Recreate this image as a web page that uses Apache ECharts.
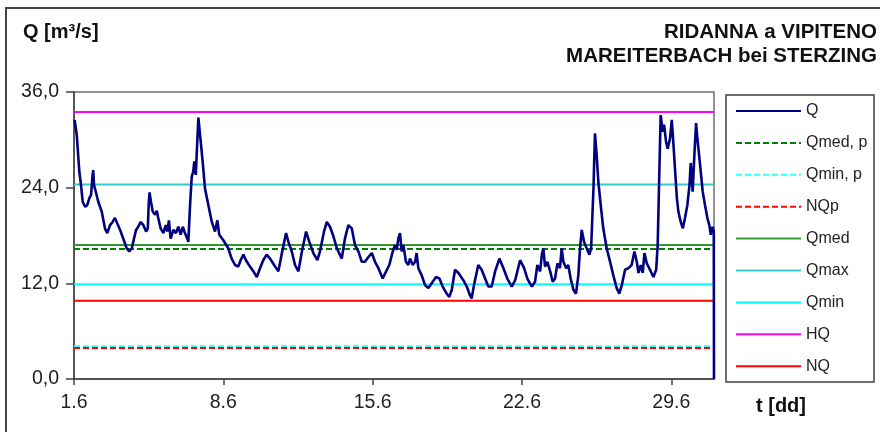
<!DOCTYPE html>
<html>
<head>
<meta charset="utf-8">
<script src="https://cdn.jsdelivr.net/npm/echarts@6/dist/echarts.min.js"></script>
<style>html,body{margin:0;padding:0;background:#fff}#c{width:880px;height:432px}</style>
</head>
<body>
<div id="c"></div>
<script>
// time in days since 1.6 00:00
const tDays = [0.03,0.13,0.25,0.33,0.41,0.52,0.62,0.72,0.80,0.86,0.90,0.94,1.02,1.14,1.30,1.45,1.56,1.69,1.81,1.92,2.03,2.16,2.31,2.47,2.59,2.71,2.81,2.91,3.01,3.13,3.25,3.38,3.46,3.50,3.54,3.61,3.69,3.80,3.88,3.95,4.06,4.19,4.30,4.37,4.45,4.53,4.66,4.78,4.89,5.00,5.10,5.20,5.31,5.36,5.44,5.52,5.59,5.64,5.71,5.75,5.83,5.91,6.03,6.14,6.30,6.46,6.61,6.72,6.81,7.00,7.23,7.39,7.55,7.70,7.81,7.94,8.06,8.25,8.41,8.57,8.72,8.87,9.03,9.19,9.38,9.58,9.73,9.94,10.05,10.21,10.36,10.52,10.67,10.88,11.03,11.22,11.41,11.53,11.72,11.85,12.00,12.16,12.32,12.55,12.70,12.86,13.02,13.17,13.33,13.49,13.64,13.80,13.96,14.11,14.27,14.47,14.63,14.78,14.94,15.05,15.13,15.20,15.28,15.36,15.44,15.56,15.67,15.75,15.88,15.99,16.06,16.14,16.30,16.45,16.61,16.77,16.97,17.13,17.28,17.47,17.59,17.71,17.86,18.02,18.25,18.41,18.56,18.64,18.75,18.95,19.11,19.27,19.42,19.58,19.74,19.94,20.13,20.31,20.52,20.68,20.91,21.10,21.25,21.46,21.61,21.72,21.85,21.93,22.00,22.08,22.19,22.32,22.44,22.55,22.66,22.78,22.86,22.94,23.07,23.17,23.28,23.41,23.53,23.64,23.72,23.80,23.91,24.03,24.16,24.24,24.35,24.42,24.50,24.58,24.69,24.81,24.97,25.13,25.28,25.44,25.56,25.68,25.83,25.99,26.14,26.27,26.38,26.46,26.57,26.66,26.74,26.85,27.00,27.16,27.29,27.36,27.42,27.50,27.60,27.66,27.75,27.83,27.94,28.02,28.10,28.18,28.26,28.33,28.44,28.54,28.64,28.75,28.85,28.91,29.00,29.08,29.16,29.22,29.35,29.47,29.58,29.69,29.78,29.85,29.93,29.99,30.00];
const qValues = [32.5,30.6,26.0,24.3,22.2,21.6,21.8,22.7,23.1,25.2,26.2,24.3,23.5,22.2,21.0,18.9,18.3,19.3,19.7,20.2,19.5,18.7,17.6,16.4,16.0,16.4,17.6,18.7,19.1,19.7,19.3,18.5,18.9,21.8,23.4,22.2,21.0,20.6,21.1,20.2,18.9,18.3,19.3,18.5,19.9,17.6,18.7,18.3,19.1,18.1,19.1,18.3,17.6,17.2,21.8,25.4,26.0,27.3,25.6,28.1,32.8,30.6,27.3,23.9,21.8,19.7,18.5,19.9,18.1,17.4,16.4,15.1,14.3,14.1,14.9,15.6,14.9,14.1,13.5,12.8,13.9,14.9,15.6,15.1,14.3,13.5,15.6,18.3,17.2,16.0,14.3,13.5,15.8,18.5,17.2,15.8,14.9,16.0,18.5,19.7,19.1,17.9,16.4,15.1,17.6,19.3,18.9,16.8,16.0,14.7,14.7,15.3,15.8,14.7,13.9,12.6,13.5,14.3,16.0,16.8,16.2,17.6,18.3,16.0,16.8,14.7,14.3,15.1,14.3,14.7,15.8,13.9,13.0,11.8,11.4,12.0,12.8,12.6,11.6,10.7,10.3,11.2,13.7,13.3,12.4,11.6,10.5,10.1,11.8,14.3,13.7,12.6,11.6,11.6,13.5,15.1,13.9,12.6,11.6,12.4,14.9,13.9,12.6,11.6,12.2,14.3,13.5,15.6,16.4,14.1,14.7,13.5,12.2,12.6,14.5,13.9,16.4,14.7,13.9,14.3,12.6,11.2,10.7,13.0,16.4,18.7,17.2,16.4,15.6,16.4,23.9,30.8,28.1,24.7,21.8,18.9,16.4,14.7,13.0,11.4,10.7,11.8,13.7,13.9,14.3,16.0,14.7,13.3,14.3,13.3,15.8,14.5,13.7,12.8,13.7,16.8,23.9,33.1,31.0,31.9,29.8,28.9,30.2,32.5,29.4,26.0,22.7,21.0,19.7,18.9,20.2,21.8,24.3,27.1,23.5,28.1,32.1,30.2,26.8,23.5,21.8,20.2,19.3,18.1,19.1,18.5,0];

const refNames  = ['Qmed, p','Qmin, p','NQp','Qmed','Qmax','Qmin','HQ','NQ'];
const refValues = [16.3, 4.1, 3.9, 16.8, 24.4, 11.9, 33.5, 9.8];
const refColors = ['#008000','#33FFFF','#FF0000','#339933','#33CCCC','#00FFFF','#FF00FF','#FF0000'];
const refDashed = [true,true,true,false,false,false,false,false];

const xTickValues = [0,7,14,21,28];
const xTickLabels = ['1.6','8.6','15.6','22.6','29.6'];
const yTickValues = [0,12,24,36];
const yTickLabels = ['0,0','12,0','24,0','36,0'];

const FONT = '"Liberation Sans", Arial, sans-serif';
const chart = echarts.init(document.getElementById('c'), null, {renderer:'canvas'});

const series = [];
refNames.forEach((n,i)=>{
  series.push({
    name:n, type:'line', symbol:'none', silent:true, z:2,
    data:[[0,refValues[i]],[30,refValues[i]]],
    lineStyle:{color:refColors[i], width:2, type: refDashed[i] ? [6,3] : 'solid'},
    itemStyle:{color:refColors[i]}
  });
});
series.push({
  name:'Q', type:'line', symbol:'none', z:5,
  data: tDays.map((t,i)=>[t,qValues[i]]),
  lineStyle:{color:'#000080', width:2.6},
  itemStyle:{color:'#000080'}
});

chart.setOption({
  animation:false,
  backgroundColor:'#fff',
  grid:{left:74, top:92, right:166, bottom:53, show:true, borderColor:'#707070', borderWidth:1.5, backgroundColor:'transparent'},
  xAxis:{
    type:'value', min:0, max:30, interval:7,
    axisLine:{show:true, lineStyle:{color:'#404040', width:1.5}},
    axisTick:{show:true, length:6, inside:false, customValues:xTickValues, lineStyle:{color:'#404040', width:1.5}},
    axisLabel:{customValues:xTickValues, formatter:(v)=>xTickLabels[xTickValues.indexOf(v)] || '', margin:14, fontSize:19.5, color:'#222', fontFamily:FONT},
    splitLine:{show:false}
  },
  yAxis:{
    type:'value', min:0, max:36, interval:12,
    axisLine:{show:true, lineStyle:{color:'#404040', width:1.5}},
    axisTick:{show:true, length:8, lineStyle:{color:'#404040', width:1.5}},
    axisLabel:{formatter:(v)=>yTickLabels[yTickValues.indexOf(v)] || '', margin:15, fontSize:19.5, color:'#222', fontFamily:FONT},
    splitLine:{show:false}
  },
  legend:{
    orient:'vertical', left:735, top:103, padding:0,
    itemWidth:65, itemHeight:14, itemGap:15.9,
    data:['Q'].concat(refNames),
    itemStyle:{opacity:0, borderWidth:0},
    textStyle:{fontSize:16, color:'#222', fontFamily:FONT},
    selectedMode:false
  },
  graphic:[
    {type:'rect', shape:{x:6, y:8, width:900, height:450}, style:{fill:'none', stroke:'#444', lineWidth:2}, silent:true},
    {type:'rect', shape:{x:726, y:95, width:148, height:287}, style:{fill:'none', stroke:'#404040', lineWidth:1.5}, silent:true},
    {type:'text', left:23, top:22, style:{text:'Q [m³/s]', font:'bold 20px '+FONT, fill:'#111'}},
    {type:'text', right:3, top:22, style:{text:'RIDANNA a VIPITENO', font:'bold 20.5px '+FONT, fill:'#111', align:'right'}},
    {type:'text', right:3, top:46, style:{text:'MAREITERBACH bei STERZING', font:'bold 20.5px '+FONT, fill:'#111', align:'right'}},
    {type:'text', left:756, top:396, style:{text:'t [dd]', font:'bold 20px '+FONT, fill:'#111'}}
  ],
  series: series
});
</script>
</body>
</html>
